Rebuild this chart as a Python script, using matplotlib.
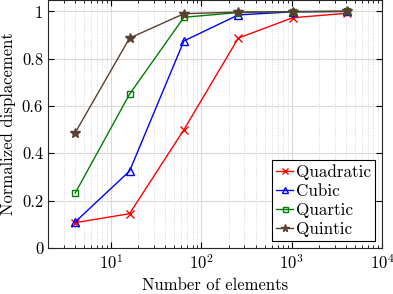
import matplotlib
matplotlib.use("Agg")
import matplotlib.pyplot as plt

plt.rcParams['font.family'] = ['cmr10', 'DejaVu Serif']
plt.rcParams['mathtext.fontset'] = 'cm'
plt.rcParams['axes.formatter.use_mathtext'] = True
plt.rcParams['axes.unicode_minus'] = False

# data
elements = [4, 16, 64, 256, 1024, 4096]
quadratic = [0.107, 0.145, 0.50, 0.887, 0.973, 0.992]
cubic = [0.110, 0.325, 0.875, 0.985, 0.998, 1.0]
quartic = [0.232, 0.650, 0.975, 0.995, 0.999, 1.0]
quintic = [0.487, 0.887, 0.990, 0.997, 0.999, 1.0]

fig = plt.figure(figsize=(3.93, 2.94), dpi=100)
ax = fig.add_axes([48/393, 1-248/294, 334/393, 248/294])

ax.plot(elements, quadratic, color='red', marker='x', ms=6, lw=1, label='Quadratic')
ax.plot(elements, cubic, color='blue', marker='^', ms=6, mfc='none', lw=1, label='Cubic')
ax.plot(elements, quartic, color='#008000', marker='s', ms=4.5, mfc='none', lw=1, label='Quartic')
ax.plot(elements, quintic, color='#5a4030', marker='*', ms=7, lw=1, label='Quintic')

ax.set_xscale('log')
ax.set_xlim(2, 1e4)
ax.set_ylim(0, 1.048)
ax.set_yticks([0, 0.2, 0.4, 0.6, 0.8, 1])
ax.set_yticklabels(['0', '0.2', '0.4', '0.6', '0.8', '1'])

ax.grid(True, which='major', color='#d9d9d9', lw=0.8)
ax.grid(True, which='minor', color='#cccccc', lw=0.6, ls=':')
ax.tick_params(which='both', direction='in', top=True, right=True, labelsize=12)
ax.tick_params(which='major', length=4)
ax.tick_params(which='minor', length=2)
for s in ax.spines.values():
    s.set_color('#262626')
    s.set_linewidth(0.8)

ax.set_xlabel('Number of elements', fontsize=12)
ax.set_ylabel('Normalized displacement', fontsize=12)

leg = ax.legend(loc='lower right', fontsize=12.3, fancybox=False, edgecolor='black',
                framealpha=1, handlelength=1.0, handletextpad=0.15, borderpad=0.25,
                labelspacing=0.22, borderaxespad=0.4, markerscale=0.8)
leg.get_frame().set_linewidth(0.8)

fig.savefig('out.png', dpi=100)
